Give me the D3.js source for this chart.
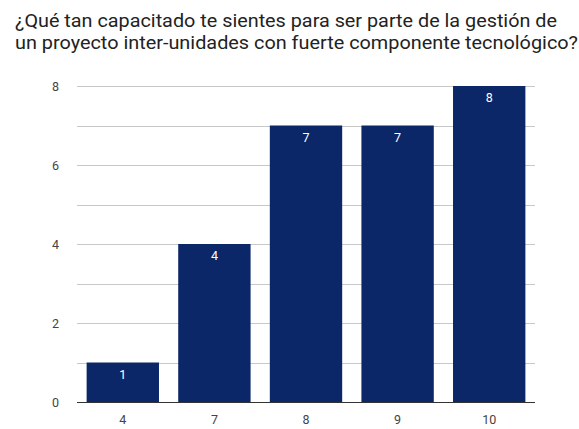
<!DOCTYPE html>
<html>
<head>
<meta charset="utf-8">
<script src="https://cdn.jsdelivr.net/npm/d3@7"></script>
<style>
  html, body { margin: 0; padding: 0; background: #fff; }
  svg { display: block; font-family: Roboto, "Noto Sans", sans-serif; }
</style>
</head>
<body>
<svg id="chart" width="579" height="429"></svg>
<script>
// Survey answers: rating given and how many people chose it
const categories = ["4", "7", "8", "9", "10"];
const counts = [1, 4, 7, 7, 8];
const yTickLabels = [0, 2, 4, 6, 8];
const gridValues = [0, 1, 2, 3, 4, 5, 6, 7, 8];
const titleLines = [
  "¿Qué tan capacitado te sientes para ser parte de la gestión de",
  "un proyecto inter-unidades con fuerte componente tecnológico?"
];
const titleWidths = [542, 563];

const svg = d3.select("#chart");
const margin = { left: 77, right: 44, top: 86, bottom: 27 };
const width = 579, height = 429;

const x = d3.scaleBand()
  .domain(categories)
  .range([margin.left, width - margin.right])
  .paddingInner(0.21)
  .paddingOuter(0.105);

const y = d3.scaleLinear()
  .domain([0, 8])
  .range([height - margin.bottom, margin.top]);

// Title
svg.append("g")
  .selectAll("text")
  .data(titleLines)
  .join("text")
  .attr("x", 15)
  .attr("y", (d, i) => 27 + i * 22)
  .attr("font-size", 19)
  .attr("textLength", (d, i) => titleWidths[i])
  .attr("lengthAdjust", "spacingAndGlyphs")
  .attr("fill", "#222")
  .text(d => d);

// Horizontal gridlines
svg.append("g")
  .selectAll("line")
  .data(gridValues.filter(v => v !== 0))
  .join("line")
  .attr("x1", margin.left)
  .attr("x2", width - margin.right)
  .attr("y1", d => Math.round(y(d)) + 0.5)
  .attr("y2", d => Math.round(y(d)) + 0.5)
  .attr("stroke", "#c8c8c8")
  .attr("stroke-width", 1);

// Bars
svg.append("g")
  .selectAll("rect")
  .data(categories)
  .join("rect")
  .attr("x", (d) => x(d))
  .attr("width", x.bandwidth())
  .attr("y", (d, i) => y(counts[i]))
  .attr("height", (d, i) => y(0) - y(counts[i]))
  .attr("fill", "#0c2768");

// Value labels inside the top of each bar
svg.append("g")
  .selectAll("text")
  .data(categories)
  .join("text")
  .attr("x", d => x(d) + x.bandwidth() / 2)
  .attr("y", (d, i) => y(counts[i]) + 16)
  .attr("text-anchor", "middle")
  .attr("font-size", 12.5)
  .attr("fill", "#fff")
  .text((d, i) => counts[i]);

// Baseline
svg.append("line")
  .attr("x1", margin.left)
  .attr("x2", width - margin.right)
  .attr("y1", Math.round(y(0)) + 0.5)
  .attr("y2", Math.round(y(0)) + 0.5)
  .attr("stroke", "#333")
  .attr("stroke-width", 1);

// Y axis labels
const yAxis = d3.axisLeft(y).tickValues(yTickLabels).tickSize(0).tickPadding(18);
svg.append("g")
  .attr("transform", `translate(${margin.left},0)`)
  .call(yAxis)
  .call(g => g.select(".domain").remove())
  .call(g => g.selectAll("text").attr("font-size", 12.5).attr("fill", "#444").attr("font-family", "Roboto, sans-serif"));

// X axis labels
const xAxis = d3.axisBottom(x).tickSize(0).tickPadding(13);
svg.append("g")
  .attr("transform", `translate(0,${y(0)})`)
  .call(xAxis)
  .call(g => g.select(".domain").remove())
  .call(g => g.selectAll("text").attr("font-size", 12.5).attr("fill", "#444").attr("font-family", "Roboto, sans-serif"));
</script>
</body>
</html>
